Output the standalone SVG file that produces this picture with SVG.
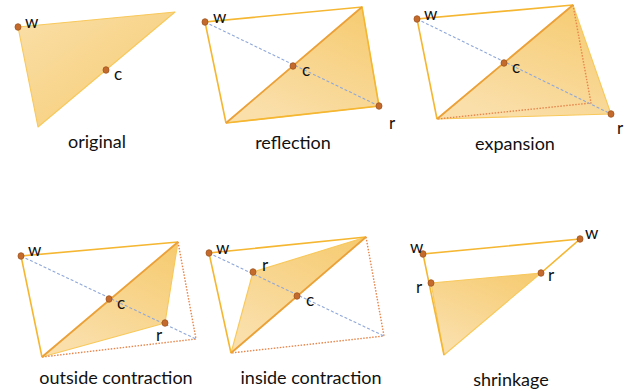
<svg xmlns="http://www.w3.org/2000/svg" width="629" height="391" viewBox="0 0 629 391">
<defs>
<linearGradient id="g" x1="0" y1="0" x2="1" y2="1">
<stop offset="0" stop-color="#FADFA8"/>
<stop offset="1" stop-color="#F6CB70"/>
</linearGradient>
<linearGradient id="g2" x1="1" y1="0" x2="0.4" y2="1">
<stop offset="0" stop-color="#F6CA6E"/>
<stop offset="1" stop-color="#FADFAA"/>
</linearGradient>
</defs>
<style>
.fill{fill:url(#g2);stroke:#F8C85A;stroke-width:1.1;stroke-linejoin:round}
.edge{fill:none;stroke:#F5B631;stroke-width:1.6}
.diag{fill:none;stroke:#EBA13A;stroke-width:1.8}
.dot{fill:none;stroke:#E8854A;stroke-width:1.4;stroke-dasharray:1.5 1.5}
.blue{fill:none;stroke:#8FA8DA;stroke-width:1.1;stroke-dasharray:3 2}
.pt{fill:#C46A2C;stroke:#A0541E;stroke-width:0.8}
text{font-family:Lato,"Noto Sans","Liberation Sans",sans-serif;fill:#111;font-size:18px}
.lbl{font-size:17px}
.ttl{text-anchor:middle}
</style>

<g id="original">
<polygon class="fill" points="18,27 175,12 38,127" style="fill:url(#g)"/>
<ellipse class="pt" cx="18" cy="27" rx="3" ry="3.3"/>
<ellipse class="pt" cx="106" cy="70" rx="3" ry="3.3"/>
<text class="lbl" x="25" y="28">w</text>
<text class="lbl" x="114" y="80">c</text>
<text class="ttl" x="97" y="148">original</text>
</g>

<g id="reflection">
<polygon class="fill" points="362,7 226,123 379,106"/>
<polyline class="edge" points="226,123 205,22 362,7 379,106 226,123"/>
<line class="diag" x1="362" y1="7" x2="226" y2="123"/>
<line class="blue" x1="205" y1="22" x2="379" y2="106"/>
<ellipse class="pt" cx="205" cy="22" rx="3" ry="3.3"/>
<ellipse class="pt" cx="293" cy="66" rx="3" ry="3.3"/>
<ellipse class="pt" cx="379" cy="106" rx="3" ry="3.3"/>
<text class="lbl" x="213" y="23">w</text>
<text class="lbl" x="302" y="76">c</text>
<text class="lbl" x="389" y="129">r</text>
<text class="ttl" x="293" y="149">reflection</text>
</g>

<g id="expansion">
<polygon class="fill" points="573,5 437,119 611,114"/>
<polyline class="edge" points="437,119 417,19 573,5"/>
<polyline class="dot" points="573,5 591,103 437,119"/>
<line class="diag" x1="573" y1="5" x2="437" y2="119"/>
<line class="blue" x1="417" y1="19" x2="611" y2="114"/>
<ellipse class="pt" cx="417" cy="19" rx="3" ry="3.3"/>
<ellipse class="pt" cx="504" cy="63" rx="3" ry="3.3"/>
<ellipse class="pt" cx="611" cy="114" rx="3" ry="3.3"/>
<text class="lbl" x="424" y="20">w</text>
<text class="lbl" x="512" y="73">c</text>
<text class="lbl" x="617" y="134">r</text>
<text class="ttl" x="515" y="150">expansion</text>
</g>

<g id="outside-contraction">
<polygon class="fill" points="178,242 42,357 165,323"/>
<polyline class="edge" points="42,357 21,256 178,242"/>
<polyline class="dot" points="178,242 196,339 42,357"/>
<line class="diag" x1="178" y1="242" x2="42" y2="357"/>
<line class="blue" x1="21" y1="256" x2="196" y2="339"/>
<ellipse class="pt" cx="21" cy="256" rx="3" ry="3.3"/>
<ellipse class="pt" cx="109" cy="299" rx="3" ry="3.3"/>
<ellipse class="pt" cx="165" cy="323" rx="3" ry="3.3"/>
<text class="lbl" x="28" y="256">w</text>
<text class="lbl" x="117" y="309">c</text>
<text class="lbl" x="156" y="341">r</text>
<text class="ttl" x="116" y="384">outside contraction</text>
</g>

<g id="inside-contraction">
<polygon class="fill" points="366,237 231,353 253,272"/>
<polyline class="edge" points="231,353 209,253 366,237"/>
<polyline class="dot" points="366,237 384,336 231,353"/>
<line class="diag" x1="366" y1="237" x2="231" y2="353"/>
<line class="blue" x1="209" y1="253" x2="384" y2="336"/>
<ellipse class="pt" cx="209" cy="253" rx="3" ry="3.3"/>
<ellipse class="pt" cx="253" cy="272" rx="3" ry="3.3"/>
<ellipse class="pt" cx="297" cy="296" rx="3" ry="3.3"/>
<text class="lbl" x="216" y="254">w</text>
<text class="lbl" x="262" y="271">r</text>
<text class="lbl" x="306" y="306">c</text>
<text class="ttl" x="311" y="384">inside contraction</text>
</g>

<g id="shrinkage">
<polygon class="fill" points="431,283 541,273 444,355"/>
<polyline class="edge" points="444,355 423,254 580,239 541,273"/>
<ellipse class="pt" cx="423" cy="254" rx="3" ry="3.3"/>
<ellipse class="pt" cx="580" cy="239" rx="3" ry="3.3"/>
<ellipse class="pt" cx="431" cy="283" rx="3" ry="3.3"/>
<ellipse class="pt" cx="541" cy="273" rx="3" ry="3.3"/>
<text class="lbl" x="410" y="253">w</text>
<text class="lbl" x="585" y="239">w</text>
<text class="lbl" x="416" y="293">r</text>
<text class="lbl" x="548" y="281">r</text>
<text class="ttl" x="511" y="386">shrinkage</text>
</g>
</svg>
